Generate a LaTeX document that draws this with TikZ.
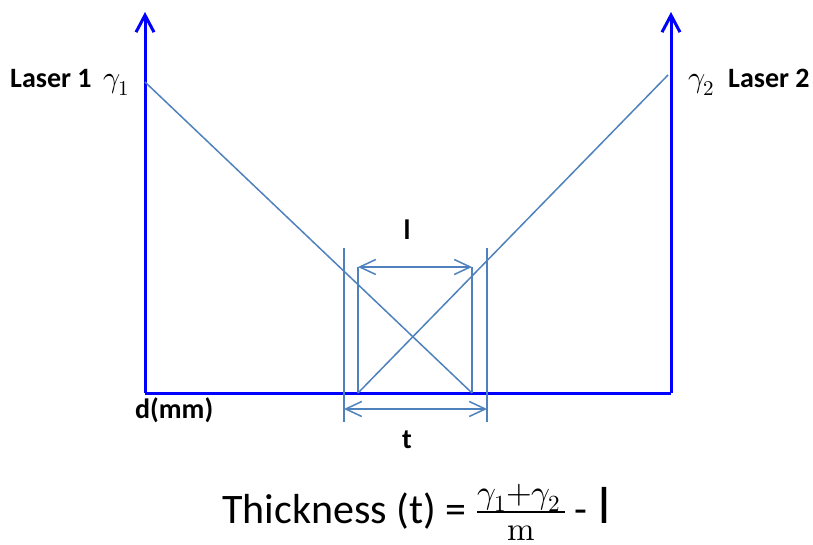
\documentclass[tikz,border=0pt]{standalone}
\usepackage{fontspec}
\usepackage{unicode-math}
\setmainfont{Carlito}
\setmathfont{Latin Modern Math}
\usetikzlibrary{arrows.meta}
\definecolor{axisblue}{RGB}{0,0,255}
\definecolor{beam}{RGB}{79,129,189}
\tikzset{
  axisline/.style={draw=axisblue, line width=3pt, -{Straight Barb[length=17pt,width=18pt]}},
  baseline/.style={draw=axisblue, line width=3pt},
  beamline/.style={draw=beam, line width=1.5pt},
  dimline/.style={draw=beam, line width=1.5pt, {Straight Barb[length=16pt,width=15pt]}-{Straight Barb[length=16pt,width=15pt]}},
  lbl/.style={inner sep=0pt, font=\fontsize{28}{30}\selectfont\bfseries},
  glbl/.style={inner sep=0pt, font=\fontsize{30}{30}\selectfont},
  eqtext/.style={inner sep=0pt, font=\fontsize{42}{44}\selectfont},
  eqmath/.style={inner sep=0pt, font=\fontsize{33}{34}\selectfont}
}
\begin{document}
\begin{tikzpicture}[x=1pt,y=-1pt]
\useasboundingbox (0,0) rectangle (813,545);
% axes
\coordinate (O1) at (145,393);
\coordinate (T1) at (145,12);
\coordinate (O2) at (671,393);
\coordinate (T2) at (671,12);
\draw[axisline] (O1) -- (T1);
\draw[axisline] (O2) -- (T2);
\draw[baseline] (O1) -- (O2);
% beams
\coordinate (L1) at (145,82);
\coordinate (E1) at (472,393);
\coordinate (L2) at (668,75);
\coordinate (E2) at (358,393);
\draw[beamline] (L1) -- (E1);
\draw[beamline] (L2) -- (E2);
% inner box
\coordinate (IL) at (358,267);
\coordinate (IR) at (472,267);
\draw[beamline] (IL) -- (E2);
\draw[beamline] (IR) -- (E1);
\draw[dimline] (IL) -- (IR);
% outer
\coordinate (OLt) at (344,248);
\coordinate (OLb) at (344,422);
\coordinate (ORt) at (487,248);
\coordinate (ORb) at (487,422);
\draw[beamline] (OLt) -- (OLb);
\draw[beamline] (ORt) -- (ORb);
\coordinate (TL) at (344,409);
\coordinate (TR) at (487,409);
\draw[dimline] (TL) -- (TR);
% labels
\node[lbl, anchor=base west] (las1) at (10,88) {Laser 1};
\node[glbl, anchor=base west] (g1) at (103,88) {$\gamma_1$};
\node[glbl, anchor=base west] (g2) at (688,88) {$\gamma_2$};
\node[lbl, anchor=base west] (las2) at (728,88) {Laser 2};
\node[lbl, anchor=base] (llab) at (407,240) {l};
\node[lbl, anchor=base] (tlab) at (407,448) {t};
\node[lbl, anchor=base west] (dmm) at (135,418) {d(mm)};
% formula
\node[eqtext, anchor=base west] (thick) at (222,523) {Thickness (t) =};
\node[eqmath, anchor=base] (num) at (519,503) {$\gamma_1{+}\gamma_2$};
\coordinate (barL) at (477,512);
\coordinate (barR) at (565,512);
\draw[line width=2pt] (barL) -- (barR);
\node[eqmath, anchor=base] (den) at (521,540) {$\symup{m}$};
\node[eqtext, anchor=base west] (minus) at (574,523) {-};
\node[inner sep=0pt, anchor=base west, font=\fontsize{52}{56}\selectfont] (lsym) at (598,523) {l};
\end{tikzpicture}
\end{document}
